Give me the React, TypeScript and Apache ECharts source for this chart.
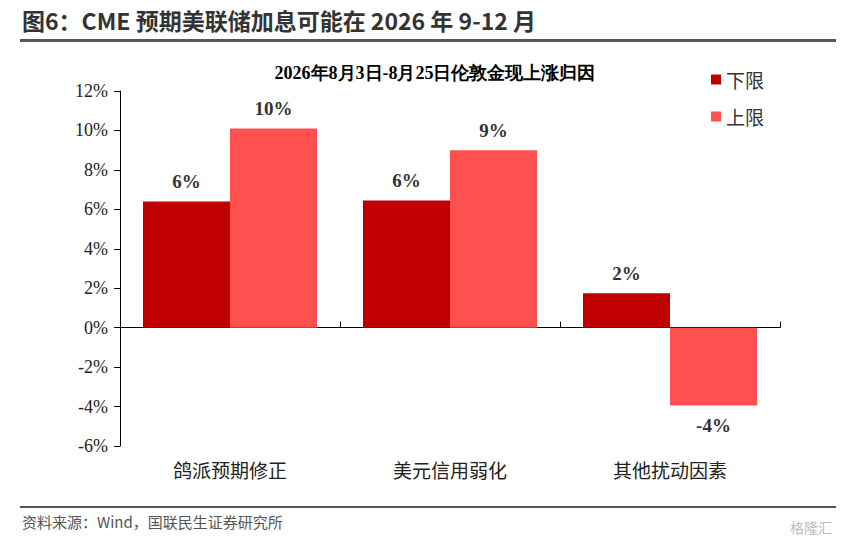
import React, { useEffect, useRef } from "react";
import * as echarts from "echarts";

const categories = ["鸽派预期修正", "美元信用弱化", "其他扰动因素"];
const lowerValues = [6.4, 6.45, 1.75];
const upperValues = [10.1, 9.0, -3.95];
const yTicks = [-6, -4, -2, 0, 2, 4, 6, 8, 10, 12];

export default function App() {
  const ref = useRef<HTMLDivElement>(null);
  useEffect(() => {
    const chart = echarts.init(ref.current!, null, { renderer: "svg" });
    const serif = "'Times New Roman', 'Liberation Serif', serif";
    const cjk = "'Noto Sans CJK SC', sans-serif";
    const lbl = (pos: string) => ({
      show: true,
      position: pos,
      distance: 10,
      fontFamily: serif,
      fontWeight: "bold",
      fontSize: 19,
      color: "#333",
      formatter: (p: any) => Math.round(p.value) + "%",
    });
    chart.setOption({
      animation: false,
      title: {
        text: "2026年8月3日-8月25日伦敦金现上涨归因",
        left: 430,
        top: 59,
        textAlign: "center",
        textStyle: { fontFamily: serif, fontWeight: "bold", fontSize: 18, color: "#000" },
      },
      legend: {
        orient: "vertical",
        left: 706,
        top: 65,
        itemGap: 18,
        itemWidth: 10,
        itemHeight: 10,
        icon: "rect",
        textStyle: { fontFamily: cjk, fontSize: 19, color: "#333" },
        data: ["下限", "上限"],
      },
      graphic: [
        { type: "text", left: 22, top: 8, style: { text: "图6：CME 预期美联储加息可能在 2026 年 9-12 月", font: "bold 23px 'Noto Sans CJK SC', sans-serif", fill: "#333" } },
        { type: "rect", shape: { x: 20, y: 39, width: 816, height: 3 }, style: { fill: "#555" } },
        { type: "rect", shape: { x: 20, y: 506, width: 816, height: 2 }, style: { fill: "#555" } },
        { type: "text", left: 22, top: 514, style: { text: "资料来源：Wind，国联民生证券研究所", font: "15px 'Noto Sans CJK SC', sans-serif", fill: "#555" } },
        { type: "text", left: 790, top: 520, style: { text: "格隆汇", font: "14px 'Noto Sans CJK SC', sans-serif", fill: "#bbb" } },
      ],
      grid: { left: 120, right: 87, top: 91, bottom: 100 },
      xAxis: [
        {
          type: "category",
          data: categories,
          position: "bottom",
          axisLine: { show: false, onZero: false },
          axisTick: { show: false },
          axisLabel: { fontFamily: cjk, fontSize: 19, color: "#222", margin: 14 },
        },
        {
          type: "category",
          data: categories,
          axisLine: { show: true, onZero: true, lineStyle: { color: "#000", width: 1 } },
          axisTick: { show: true, length: 6, lineStyle: { color: "#000" } },
          axisLabel: { show: false },
        },
      ],
      yAxis: {
        type: "value",
        min: -6,
        max: 12,
        interval: 2,
        axisLine: { show: true, lineStyle: { color: "#000" } },
        axisTick: { show: true, length: 6, lineStyle: { color: "#000" } },
        splitLine: { show: false },
        axisLabel: {
          fontFamily: serif,
          fontSize: 18,
          color: "#222",
          margin: 12,
          formatter: (v: number) => (yTicks.includes(v) ? v + "%" : ""),
        },
      },
      series: [
        { name: "下限", type: "bar", data: lowerValues, barWidth: 87, barGap: "0%", itemStyle: { color: "#C00000" }, label: lbl("top") },
        {
          name: "上限",
          type: "bar",
          data: upperValues.map((v) => ({ value: v, label: v < 0 ? lbl("bottom") : lbl("top") })),
          barWidth: 87,
          itemStyle: { color: "#FF5050" },
          label: lbl("top"),
        },
      ],
    });
    return () => chart.dispose();
  }, []);
  return <div ref={ref} style={{ position: "absolute", left: 0, top: 0, width: 867, height: 546 }} />;
}
